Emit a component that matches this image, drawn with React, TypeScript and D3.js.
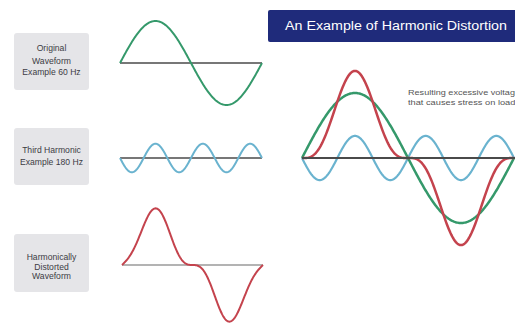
import React from "react";
import * as d3 from "d3";

// Waveform components: frequency (Hz) and relative amplitude
const fundamental = { freq: 60, amp: 1 };
const thirdHarmonic = { freq: 180, amp: -0.34 };
const distorted = [fundamental, thirdHarmonic];
// hand-sketched distorted waveform in the left column (slightly skewed peak)
const sketchDistorted = [
  { freq: 60, amp: 1 },
  { freq: 120, amp: 0.12 },
  { freq: 180, amp: -0.25 },
];

const boxLabels = [
  ["Original", "Waveform", "Example 60 Hz"],
  ["Third Harmonic", "Example 180 Hz"],
  ["Harmonically", "Distorted", "Waveform"],
];
const titleText = "An Example of Harmonic Distortion";
const noteLines = ["Resulting excessive voltage", "that causes stress on loads"];

const COLORS = { green: "#35996b", blue: "#6ab3cf", red: "#c4434d", axis: "#4a4a4a" };

type Comp = { freq: number; amp: number };
const period = 1 / fundamental.freq;
const N = 240;
const times = d3.range(N + 1).map((i) => (i / N) * period);

function wave(comps: Comp[]) {
  return times.map((t) => ({
    t,
    v: comps.reduce((s, c) => s + c.amp * Math.sin(2 * Math.PI * c.freq * t), 0),
  }));
}

type Panel = { x0: number; x1: number; y0: number; unit: number };

function WavePath({ p, comps, color, width }: { p: Panel; comps: Comp[]; color: string; width: number }) {
  const x = d3.scaleLinear().domain([0, period]).range([p.x0, p.x1]);
  const y = d3.scaleLinear().domain([-1, 1]).range([p.y0 + p.unit, p.y0 - p.unit]);
  const line = d3
    .line<{ t: number; v: number }>()
    .x((d) => x(d.t))
    .y((d) => y(d.v));
  return <path d={line(wave(comps)) || ""} fill="none" stroke={color} strokeWidth={width} strokeLinejoin="round" />;
}

function Axis({ p, color, w }: { p: Panel; color: string; w: number }) {
  return <line x1={p.x0} x2={p.x1} y1={p.y0} y2={p.y0} stroke={color} strokeWidth={w} />;
}

function LabelBox({ y, h, lines, lineY }: { y: number; h: number; lines: string[]; lineY: number[] }) {
  return (
    <g>
      <rect x={14} y={y} width={75} height={h} rx={3} fill="#e5e5e8" />
      {lines.map((l, i) => (
        <text key={i} x={51.5} y={lineY[i]} textAnchor="middle" fontSize={8.6} fill="#3c3c44" fontFamily="Liberation Sans, Arial, sans-serif">
          {l}
        </text>
      ))}
    </g>
  );
}

export default function App() {
  const p1: Panel = { x0: 120, x1: 262, y0: 63, unit: 42 };
  const p2: Panel = { x0: 120, x1: 262, y0: 158, unit: 42 };
  const p3: Panel = { x0: 122, x1: 263, y0: 265, unit: 45 };
  const big: Panel = { x0: 302, x1: 514, y0: 158, unit: 65 };

  return (
    <svg width={515} height={324} style={{ position: "absolute", left: 0, top: 0, background: "#fff" }}>
      <rect width={515} height={324} fill="#fff" />

      <LabelBox y={33} h={57} lines={boxLabels[0]} lineY={[51, 63.5, 74.5]} />
      <LabelBox y={128} h={57} lines={boxLabels[1]} lineY={[153, 165]} />
      <LabelBox y={234} h={58} lines={boxLabels[2]} lineY={[260, 269.5, 279]} />

      {/* small panels */}
      <Axis p={p1} color={COLORS.axis} w={1.5} />
      <WavePath p={p1} comps={[fundamental]} color={COLORS.green} width={2} />

      <Axis p={p2} color={COLORS.axis} w={1.3} />
      <WavePath p={p2} comps={[thirdHarmonic]} color={COLORS.blue} width={2} />

      <Axis p={p3} color="#9a9a9a" w={1.5} />
      <WavePath p={p3} comps={sketchDistorted} color={COLORS.red} width={2} />

      {/* title banner */}
      <rect x={268} y={10} width={260} height={32} rx={2} fill="#1f2b7b" />
      <text x={285} y={30} fontSize={12} fill="#fff" fontFamily="Liberation Sans, Arial, sans-serif" textLength={222} lengthAdjust="spacingAndGlyphs">
        {titleText}
      </text>

      {/* combined chart */}
      <WavePath p={big} comps={[thirdHarmonic]} color={COLORS.blue} width={2.2} />
      <WavePath p={big} comps={[fundamental]} color={COLORS.green} width={2.5} />
      <WavePath p={big} comps={distorted} color={COLORS.red} width={2.5} />
      <Axis p={{ ...big, x1: 515 }} color={COLORS.axis} w={1.8} />

      {noteLines.map((l, i) => (
        <text key={i} x={408} y={95 + i * 10} fontSize={8} fill="#555" fontFamily="Liberation Sans, Arial, sans-serif" textLength={112} lengthAdjust="spacingAndGlyphs">
          {l}
        </text>
      ))}
    </svg>
  );
}
